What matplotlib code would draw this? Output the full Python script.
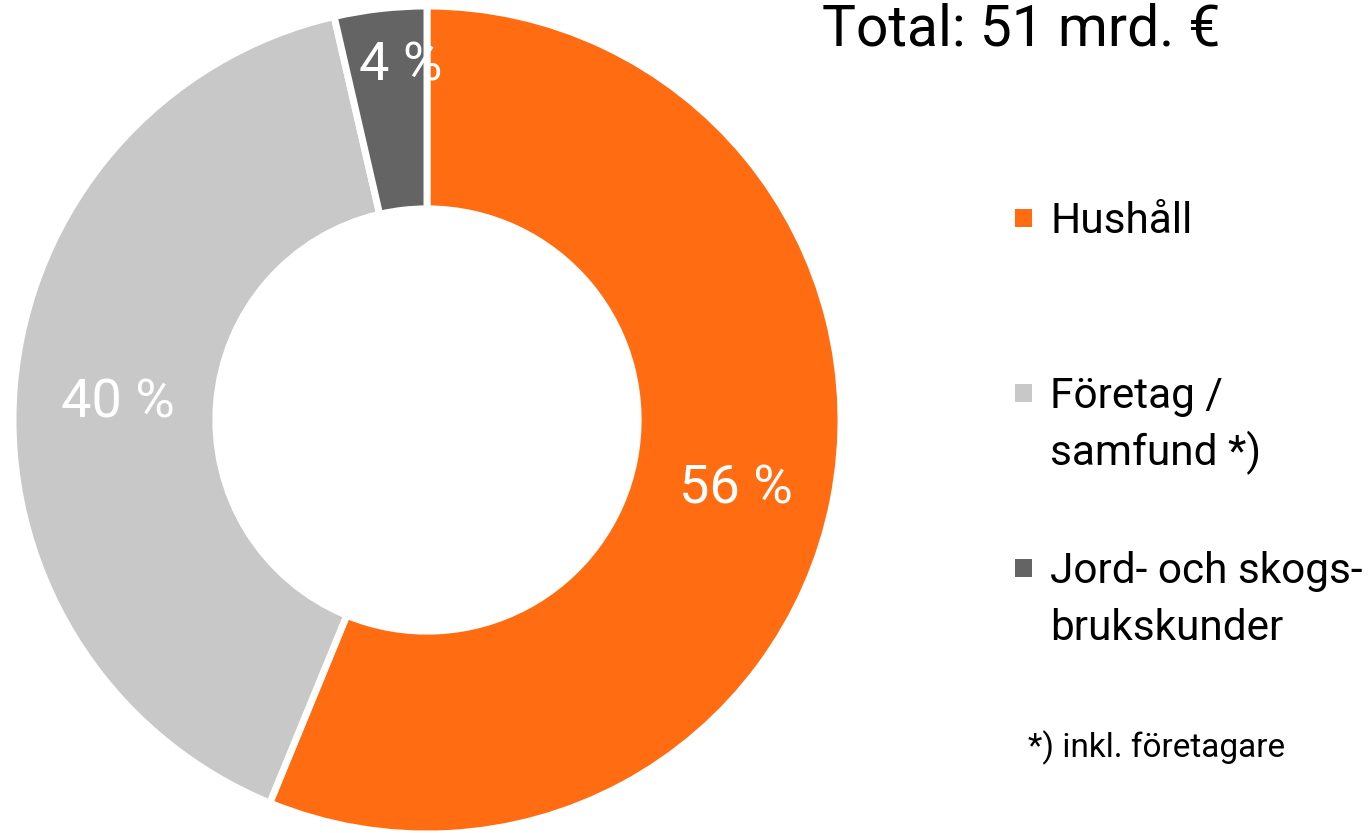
import numpy as np
import matplotlib.pyplot as plt
from matplotlib.patches import Rectangle

plt.rcParams['font.family'] = ['Roboto', 'DejaVu Sans']

# data
categories = ["Hushåll", "Företag /\nsamfund *)", "Jord- och skogs-\nbrukskunder"]
shares = [56.2, 40.2, 3.6]
pct_labels = ["56 %", "40 %", "4 %"]
colors = ["#FF6C11", "#C8C8C8", "#646464"]
title = "Total: 51 mrd. €"
footnote = "*) inkl. företagare"

W, H = 1371, 833
fig = plt.figure(figsize=(W / 100, H / 100), dpi=100)

# donut axes: centre about (427, 420) px, radius about 413 px
cx, cy, r = 427, 420, 414
ax = fig.add_axes([(cx - r) / W, (H - cy - r) / H, 2 * r / W, 2 * r / H])
wedges, _ = ax.pie(shares, colors=colors, startangle=90, counterclock=False,
                   radius=1.0, wedgeprops=dict(width=0.49, edgecolor="white", linewidth=5))
ax.set_xlim(-1, 1)
ax.set_ylim(-1, 1)
ax.set_aspect("equal")
ax.axis("off")

label_r = [0.76, 0.75, 0.88]
label_dx = [0, 0, 0.035]
for w, lab, lr, dx in zip(wedges, pct_labels, label_r, label_dx):
    ang = np.deg2rad((w.theta1 + w.theta2) / 2)
    ax.text(lr * np.cos(ang) + dx, lr * np.sin(ang) - 0.02, lab, color="white",
            fontsize=39, ha="center", va="center")

fig.text(822 / W, 1 - 45 / H, title, fontsize=41, ha="left", va="baseline")

# manual legend, one text per line
baselines = [233, 408, 583]
line_gap = 57
for cat, col, yb in zip(categories, colors, baselines):
    fig.patches.append(Rectangle((1015 / W, 1 - (yb - 6) / H), 17 / W, 18 / H,
                                 transform=fig.transFigure, facecolor=col, edgecolor="none"))
    for i, line in enumerate(cat.split("\n")):
        fig.text(1050 / W, 1 - (yb + i * line_gap) / H, line, fontsize=30.5,
                 ha="left", va="baseline")

fig.text(1028 / W, 1 - 757 / H, footnote, fontsize=24, ha="left", va="baseline")

fig.savefig("out.png", dpi=100)
